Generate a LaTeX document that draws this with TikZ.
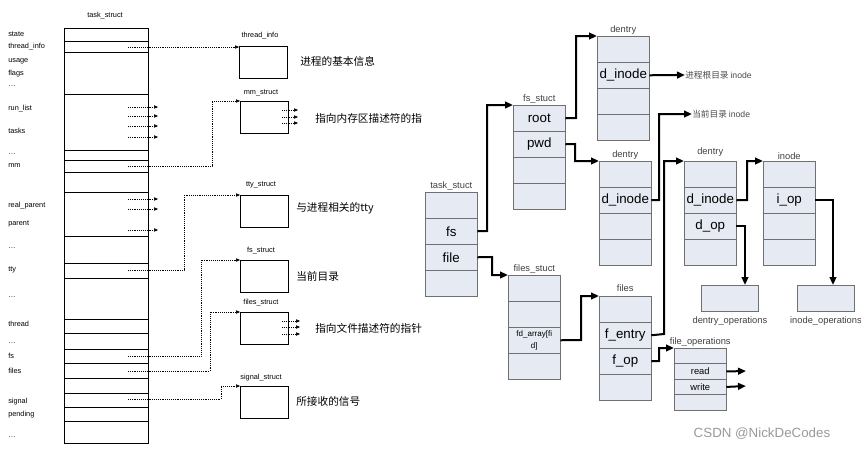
\documentclass[tikz,border=0pt]{standalone}
\usepackage{fontspec}
\setmainfont{Liberation Sans}
\newfontfamily\cjk{Noto Sans CJK SC}
\usetikzlibrary{matrix,arrows.meta,positioning}
\definecolor{boxfill}{HTML}{E6EAF2}
\definecolor{boxline}{HTML}{707070}
\begin{document}
\begin{tikzpicture}[x=0.75pt,y=-0.75pt,
  lbl/.style={font=\fontsize{5.5}{6}\selectfont, anchor=west, inner sep=0pt},
  ttl/.style={font=\fontsize{5.5}{6}\selectfont, inner sep=0pt},
  sbox/.style={draw, thick, minimum width=36pt, minimum height=24pt, anchor=north west, inner sep=0pt},
  cn/.style={font=\cjk\fontsize{8}{9}\selectfont, anchor=west, inner sep=0pt},
  dot/.style={densely dotted, -{Triangle[length=3pt,width=2.5pt]}},
  mat/.style={matrix of nodes, nodes in empty cells, row sep=-\pgflinewidth, inner sep=0pt, outer sep=0pt,
    nodes={draw=boxline, fill=boxfill, minimum width=39pt, minimum height=19.5pt, anchor=center, inner sep=0pt,
      font=\fontsize{10}{11}\selectfont}},
  mlbl/.style={font=\fontsize{7}{8}\selectfont, text=black!75, inner sep=0pt},
  thk/.style={line width=1.5pt, -{Triangle[length=6pt,width=5pt]}},
  inlbl/.style={font=\cjk\fontsize{6.5}{7}\selectfont, text=black!70, anchor=west, inner sep=0pt}]
\useasboundingbox (0,0) rectangle (861,451);

% ---------- left: task_struct ----------
\node[ttl] (tstitle) at (105,16) {task\_struct};
\node[draw, thick, anchor=north west, minimum width=63pt, minimum height=311pt, inner sep=0pt] (tsk) at (64,28) {};
\foreach \y in {41,52,94,150,160,172,192,236,263,278,319,333,349,363,378,393,407,421}
  \draw (64,\y) -- (148,\y);

\foreach \t/\y [count=\i] in {state/34, thread\_info/47, usage/61, flags/74, \dots/86, run\_list/109, tasks/131, \dots/154, mm/166,
  real\_parent/206, parent/224, \dots/248, tty/270, \dots/297, thread/324, \dots/343, fs/356, files/371, signal/402, pending/415, \dots/437}
  \node[lbl] (f\i) at (8,\y) {\t};

% sub structures
\node[ttl] (tinfot) at (260,36) {thread\_info};
\node[sbox] (tinfo) at (239,46) {};
\node[cn] (tinfoc) at (300,61) {进程的基本信息};
\node[ttl] (mmt) at (261,93) {mm\_struct};
\node[sbox] (mm) at (240,101) {};
\node[cn] (mmc) at (315,118) {指向内存区描述符的指};
\node[ttl] (ttyt) at (261,185) {tty\_struct};
\node[sbox] (tty) at (240,195) {};
\node[cn] (ttyc) at (296,208) {与进程相关的tty};
\node[ttl] (fst) at (261,251) {fs\_struct};
\node[sbox] (fs) at (240,260) {};
\node[cn] (fsc) at (296,276) {当前目录};
\node[ttl] (filest) at (261,303) {files\_struct};
\node[sbox] (files) at (240,312) {};
\node[cn] (filesc) at (315,328) {指向文件描述符的指针};
\node[ttl] (sigt) at (261,378) {signal\_struct};
\node[sbox] (sig) at (240,386) {};
\node[cn] (sigc) at (296,401) {所接收的信号};

\foreach \n/\y in {a/47,b/166,c/270,d/356,e/371,g/399} \coordinate (s\n) at (128,\y);
\draw[dot] (sa) -- (tinfo.north west |- sa);
\draw[dot] (sb) -- (212,166) |- (mm.north west);
\draw[dot] (sc) -- (184,270) |- (tty.north west);
\draw[dot] (sd) -- (201,356) |- (fs.north west);
\draw[dot] (se) -- (210,371) |- (files.north west);
\draw[dot] (sg) -- (221,399) |- (sig.north west);
\foreach \y in {107,116,126,137,199,209,230} \draw[dot] (128,\y) -- (158,\y);
\foreach \y in {110,117,123} \draw[dot] (282,\y) -- (298,\y);
\foreach \y in {321,327,334} \draw[dot] (282,\y) -- (300,\y);

% ---------- right: VFS objects ----------
\matrix (ts) [mat, anchor=north west] at (425,192) { \\ fs \\ file \\ \\};
\node[mlbl, above=1pt of ts.north] {task\_stuct};
\matrix (fss) [mat, anchor=north west] at (513,105) { root \\ pwd \\ \\ \\};
\node[mlbl, above=1pt of fss.north] {fs\_stuct};
\matrix (d1) [mat, anchor=north west] at (597,36) { \\ d\_inode \\ \\ \\};
\node[mlbl, above=1pt of d1.north] {dentry};
\matrix (d2) [mat, anchor=north west] at (599,161) { \\ d\_inode \\ \\ \\};
\node[mlbl, above=1pt of d2.north] {dentry};
\matrix (d3) [mat, anchor=north west] at (684,161) { \\ d\_inode \\ d\_op \\ \\};
\node[mlbl, above=3pt of d3.north] {dentry};
\matrix (ino) [mat, anchor=north west] at (763,161) { \\ i\_op \\ \\ \\};
\node[mlbl, above=1pt of ino.north] {inode};
\matrix (fls) [mat, anchor=north west] at (508,275) { \\ \\ |[font=\fontsize{6}{6.5}\selectfont]| \shortstack{fd\_array[fi\\d]} \\ \\};
\node[mlbl, above=1pt of fls.north] {files\_stuct};
\matrix (fil) [mat, anchor=north west] at (599,296) { \\ f\_entry \\ f\_op \\ \\};
\node[mlbl, above=3pt of fil.north] {files};
\matrix (fop) [mat, anchor=north west, nodes={minimum height=11.6pt, font=\fontsize{7}{8}\selectfont}] at (674,348) { \\ read \\ write \\ \\};
\node[mlbl, above=1pt of fop.north] {file\_operations};
\node[draw=boxline, fill=boxfill, minimum width=43pt, minimum height=19.5pt, anchor=north west, inner sep=0pt] (dop) at (701,285) {};
\node[mlbl, below=4pt of dop.south] {dentry\_operations};
\node[draw=boxline, fill=boxfill, minimum width=43pt, minimum height=19.5pt, anchor=north west, inner sep=0pt] (iop) at (797,285) {};
\node[mlbl, below=4pt of iop.south] {inode\_operations};

\node[inlbl] (rootino) at (685,75) {进程根目录 {\rmfamily inode}};
\node[inlbl] (pwdino) at (692,114) {当前目录 {\rmfamily inode}};
\coordinate (rd) at (746,371);
\coordinate (wr) at (746,386);

\draw[thk] (ts-2-1.east) -- (487,231) |- (fss.north west);
\draw[thk] (ts-3-1.east) -- (492,257) |- (fls.north west);
\draw[thk] (fss-1-1.east) -- (576,118) |- (d1.north west);
\draw[thk] (fss-2-1.east) -- (575,144) |- (d2.north west);
\draw[thk] (d1-2-1.east) -- (rootino.west);
\draw[thk] (d2-2-1.east) -- (659,200) |- (pwdino.west);
\draw[thk] (fls-3-1.east) -- (581,340) |- (fil.north west);
\draw[thk] (fil-2-1.east) -- (664,334) |- (d3.north west);
\draw[thk] (fil-3-1.east) -- (659,361) |- (fop.north west);
\draw[thk] (d3-2-1.east) -- (747,200) |- (ino.north west);
\draw[thk] (d3-3-1.east) -| (dop.north -| 745,0);
\draw[thk] (ino-2-1.east) -| (iop.north -| 833,0);
\draw[thk] (fop-2-1.east) -- (rd);
\draw[thk] (fop-3-1.east) -- (wr);

\node[font=\fontsize{10}{11}\selectfont, text=black!40] (wm) at (762,434) {CSDN @NickDeCodes};
\end{tikzpicture}
\end{document}
